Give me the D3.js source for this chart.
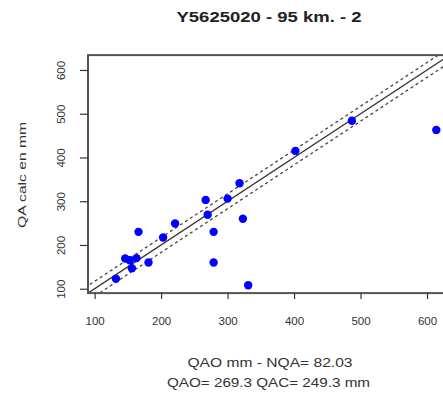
<!DOCTYPE html>
<html>
<head>
<meta charset="utf-8">
<script src="https://cdn.jsdelivr.net/npm/d3@7"></script>
<style>
  body { margin: 0; background: #fff; }
  svg { display: block; font-family: "Liberation Sans", Arial, sans-serif; }
</style>
</head>
<body>
<svg id="chart" width="443" height="393"></svg>
<script>
const title = "Y5625020 - 95 km. - 2";
const xLabel1 = "QAO mm - NQA= 82.03";
const xLabel2 = "QAO= 269.3 QAC= 249.3 mm";
const yLabel = "QA calc en mm";
const xTicks = [100, 200, 300, 400, 500, 600];
const yTicks = [100, 200, 300, 400, 500, 600];
const qao = [132, 146, 153, 156, 163, 166, 181, 203, 221, 267, 270, 279, 279, 300, 318, 323, 331, 402, 487, 614];
const qac = [123, 169, 165, 147, 170, 230, 160, 217, 249, 303, 269, 230, 160, 306, 341, 260, 108, 415, 484, 463];
const domain = [90, 634];
const band = 17;

(function () {
const svg = d3.select("#chart");
const pL = 88, pR = 449.6, pT = 55.1, pB = 293.1;
const x = d3.scaleLinear().domain(domain).range([pL, pR]);
const y = d3.scaleLinear().domain(domain).range([pB, pT]);

svg.append("defs").append("clipPath").attr("id", "clip")
  .append("rect").attr("x", pL).attr("y", pT).attr("width", pR - pL).attr("height", pB - pT);

const plot = svg.append("g").attr("clip-path", "url(#clip)");
const line = d3.line().x(d => x(d[0])).y(d => y(d[1]));
const lo = domain[0] - 50, hi = domain[1] + 50;
plot.append("path").attr("d", line([[lo, lo], [hi, hi]]))
  .attr("stroke", "#333").attr("stroke-width", 1.3).attr("fill", "none");
[band, -band].forEach(o => {
  plot.append("path").attr("d", line([[lo, lo + o], [hi, hi + o]]))
    .attr("stroke", "#444").attr("stroke-width", 1.3).attr("stroke-dasharray", "3,3").attr("fill", "none");
});

plot.selectAll("circle").data(qao.map((v, i) => [v, qac[i]])).enter().append("circle")
  .attr("cx", d => x(d[0])).attr("cy", d => y(d[1])).attr("r", 4.2).attr("fill", "#0000ff");

// frame
svg.append("rect").attr("x", pL).attr("y", pT).attr("width", pR - pL + 10).attr("height", pB - pT)
  .attr("fill", "none").attr("stroke", "#555").attr("stroke-width", 2);

// x axis
const xAxis = d3.axisBottom(x).tickValues(xTicks).tickSize(6).tickPadding(18).tickFormat(d3.format("d"));
const gx = svg.append("g").attr("transform", `translate(0,${pB})`).call(xAxis);
gx.select(".domain").remove();
gx.selectAll(".tick line").attr("stroke", "#333").attr("stroke-width", 1.2);
gx.selectAll(".tick text").attr("font-size", 11.5).attr("fill", "#333").attr("font-family", "Liberation Sans, Arial, sans-serif");

// y axis
const yAxis = d3.axisLeft(y).tickValues(yTicks).tickSize(8).tickPadding(0).tickFormat(d3.format("d"));
const gy = svg.append("g").attr("transform", `translate(${pL},0)`).call(yAxis);
gy.select(".domain").remove();
gy.selectAll(".tick line").attr("stroke", "#333").attr("stroke-width", 1.2);
gy.selectAll(".tick text")
  .attr("font-size", 11.5).attr("fill", "#333").attr("font-family", "Liberation Sans, Arial, sans-serif")
  .attr("text-anchor", "middle").attr("x", 0).attr("dy", 0)
  .attr("transform", "translate(-27,0) rotate(-90)")
  .attr("dominant-baseline", "central");

// title
svg.append("text").attr("x", 269).attr("y", 22).attr("text-anchor", "middle")
  .attr("font-size", 15).attr("font-weight", "bold").attr("fill", "#222")
  .attr("textLength", 185).attr("lengthAdjust", "spacingAndGlyphs").text(title);

svg.append("text").attr("x", 270).attr("y", 366.5).attr("text-anchor", "middle")
  .attr("font-size", 12.5).attr("fill", "#333")
  .attr("textLength", 165).attr("lengthAdjust", "spacingAndGlyphs").text(xLabel1);
svg.append("text").attr("x", 268.5).attr("y", 386.8).attr("text-anchor", "middle")
  .attr("font-size", 12.5).attr("fill", "#333")
  .attr("textLength", 203).attr("lengthAdjust", "spacingAndGlyphs").text(xLabel2);

svg.append("text").attr("transform", "translate(26,175) rotate(-90)").attr("text-anchor", "middle")
  .attr("font-size", 11).attr("fill", "#333")
  .attr("textLength", 106).attr("lengthAdjust", "spacingAndGlyphs").text(yLabel);
})();
</script>
</body>
</html>
